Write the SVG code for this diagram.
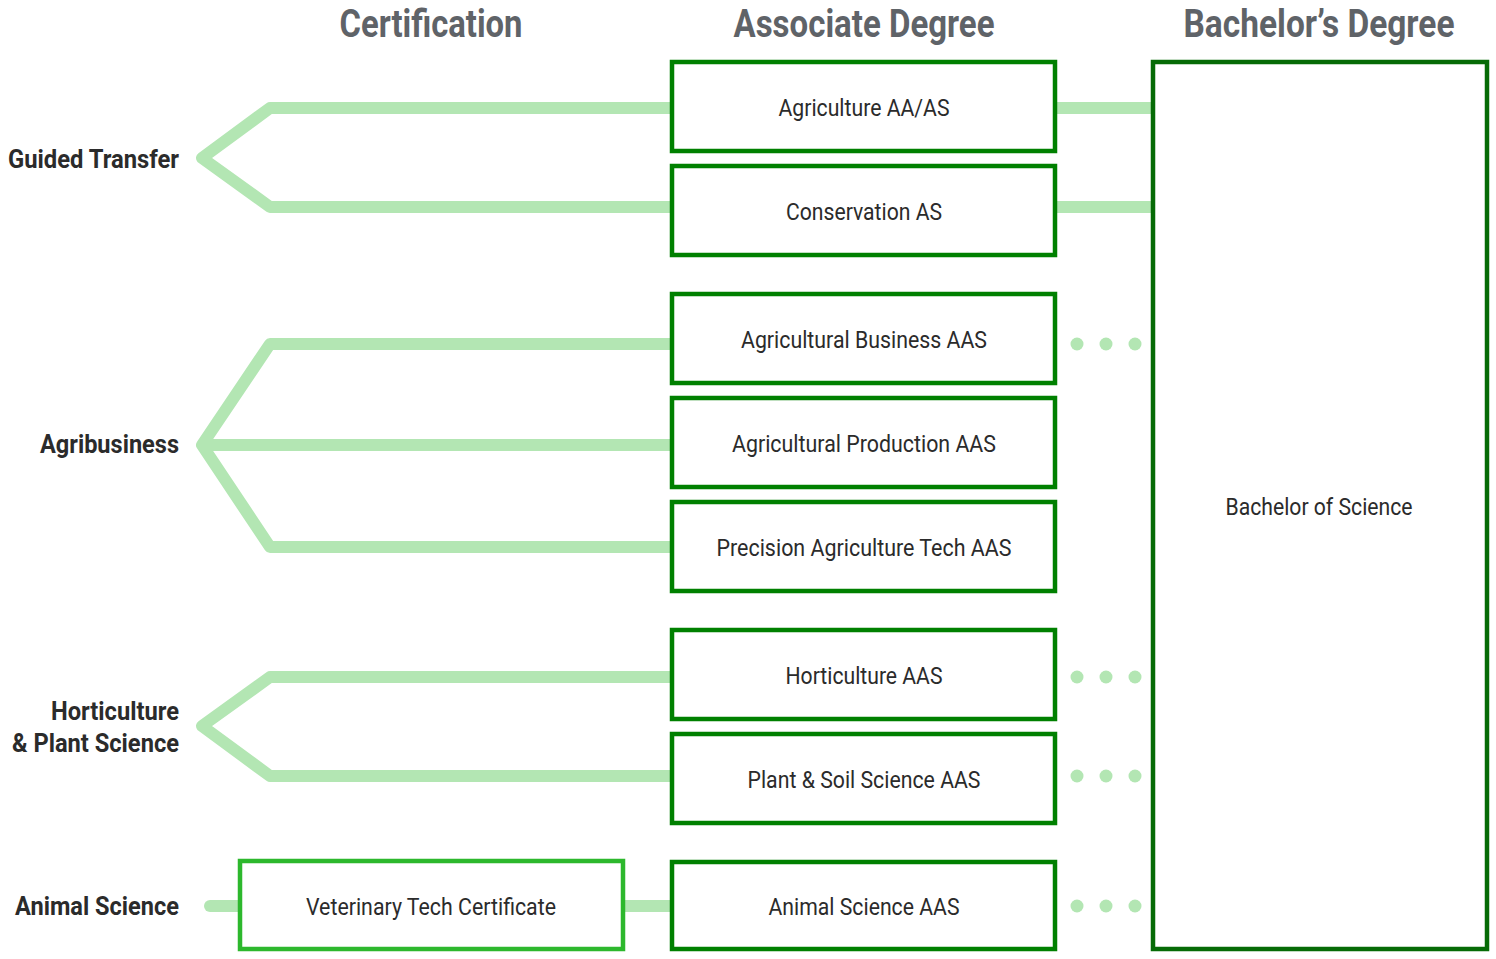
<svg xmlns="http://www.w3.org/2000/svg" width="1496" height="959" viewBox="0 0 1496 959">
<style>
.hdr{font-family:Roboto,"Liberation Sans",sans-serif;font-weight:bold;font-size:38px;fill:#5f6368;text-anchor:middle}
.lbl{font-family:Roboto,"Liberation Sans",sans-serif;font-weight:bold;font-size:25px;fill:#2b2b2b;text-anchor:end}
.txt{font-family:Roboto,"Liberation Sans",sans-serif;font-size:23px;fill:#2b2b2b;text-anchor:middle}
.assoc{fill:#fff;stroke:#008000;stroke-width:4.5}
.bach{fill:#fff;stroke:#066b06;stroke-width:4.5}
.cert{fill:#fff;stroke:#2db82d;stroke-width:4.5}
.conn{fill:none;stroke:#b3e6b3;stroke-width:12;stroke-linejoin:round}
.dot{fill:#b3e6b3}
</style>
<rect width="1496" height="959" fill="#fff"/>
<g id="headers">
<text class="hdr" x="431" y="37" textLength="183" lengthAdjust="spacingAndGlyphs">Certification</text>
<text class="hdr" x="864" y="37" textLength="261" lengthAdjust="spacingAndGlyphs">Associate Degree</text>
<text class="hdr" x="1319" y="37" textLength="271" lengthAdjust="spacingAndGlyphs">Bachelor’s Degree</text>
</g>
<g id="connectors">
<polyline class="conn" points="670,108 270,108 202,158 270,207 670,207"/>
<line class="conn" x1="1057" y1="108" x2="1151" y2="108"/>
<line class="conn" x1="1057" y1="207" x2="1151" y2="207"/>
<polyline class="conn" points="670,344 270,344 202,445 270,547 670,547"/>
<line class="conn" x1="202" y1="445" x2="670" y2="445"/>
<polyline class="conn" points="670,677 270,677 202,726 270,776 670,776"/>
<line class="conn" x1="210" y1="906" x2="238" y2="906" stroke-linecap="round"/>
<line class="conn" x1="625" y1="906" x2="670" y2="906"/>
<g id="dots">
<circle class="dot" cx="1077" cy="344" r="6.5"/><circle class="dot" cx="1106" cy="344" r="6.5"/><circle class="dot" cx="1135" cy="344" r="6.5"/>
<circle class="dot" cx="1077" cy="677" r="6.5"/><circle class="dot" cx="1106" cy="677" r="6.5"/><circle class="dot" cx="1135" cy="677" r="6.5"/>
<circle class="dot" cx="1077" cy="776" r="6.5"/><circle class="dot" cx="1106" cy="776" r="6.5"/><circle class="dot" cx="1135" cy="776" r="6.5"/>
<circle class="dot" cx="1077" cy="906" r="6.5"/><circle class="dot" cx="1106" cy="906" r="6.5"/><circle class="dot" cx="1135" cy="906" r="6.5"/>
</g>
</g>
<g id="labels">
<text class="lbl" x="179" y="168" textLength="171" lengthAdjust="spacingAndGlyphs">Guided Transfer</text>
<text class="lbl" x="179" y="453" textLength="139" lengthAdjust="spacingAndGlyphs">Agribusiness</text>
<text class="lbl" x="179" y="720" textLength="128" lengthAdjust="spacingAndGlyphs">Horticulture</text>
<text class="lbl" x="179" y="752" textLength="167" lengthAdjust="spacingAndGlyphs">&amp; Plant Science</text>
<text class="lbl" x="179" y="915" textLength="164" lengthAdjust="spacingAndGlyphs">Animal Science</text>
</g>
<g id="n-ag"><rect class="assoc" x="672" y="62" width="383" height="89"/><text class="txt" x="864" y="116" textLength="171" lengthAdjust="spacingAndGlyphs">Agriculture AA/AS</text></g>
<g id="n-cons"><rect class="assoc" x="672" y="166" width="383" height="89"/><text class="txt" x="864" y="220" textLength="156" lengthAdjust="spacingAndGlyphs">Conservation AS</text></g>
<g id="n-agbus"><rect class="assoc" x="672" y="294" width="383" height="89"/><text class="txt" x="864" y="348" textLength="246" lengthAdjust="spacingAndGlyphs">Agricultural Business AAS</text></g>
<g id="n-agprod"><rect class="assoc" x="672" y="398" width="383" height="89"/><text class="txt" x="864" y="452" textLength="264" lengthAdjust="spacingAndGlyphs">Agricultural Production AAS</text></g>
<g id="n-prec"><rect class="assoc" x="672" y="502" width="383" height="89"/><text class="txt" x="864" y="556" textLength="295" lengthAdjust="spacingAndGlyphs">Precision Agriculture Tech AAS</text></g>
<g id="n-hort"><rect class="assoc" x="672" y="630" width="383" height="89"/><text class="txt" x="864" y="684" textLength="157" lengthAdjust="spacingAndGlyphs">Horticulture AAS</text></g>
<g id="n-plant"><rect class="assoc" x="672" y="734" width="383" height="89"/><text class="txt" x="864" y="788" textLength="233" lengthAdjust="spacingAndGlyphs">Plant &amp; Soil Science AAS</text></g>
<g id="n-anim"><rect class="assoc" x="672" y="862" width="383" height="87"/><text class="txt" x="864" y="915" textLength="191" lengthAdjust="spacingAndGlyphs">Animal Science AAS</text></g>
<g id="n-vet"><rect class="cert" x="240" y="861" width="383" height="88"/><text class="txt" x="431" y="915" textLength="250" lengthAdjust="spacingAndGlyphs">Veterinary Tech Certificate</text></g>
<g id="n-bs"><rect class="bach" x="1153" y="62" width="334" height="887"/><text class="txt" x="1319" y="515" textLength="187" lengthAdjust="spacingAndGlyphs">Bachelor of Science</text></g>
</svg>
